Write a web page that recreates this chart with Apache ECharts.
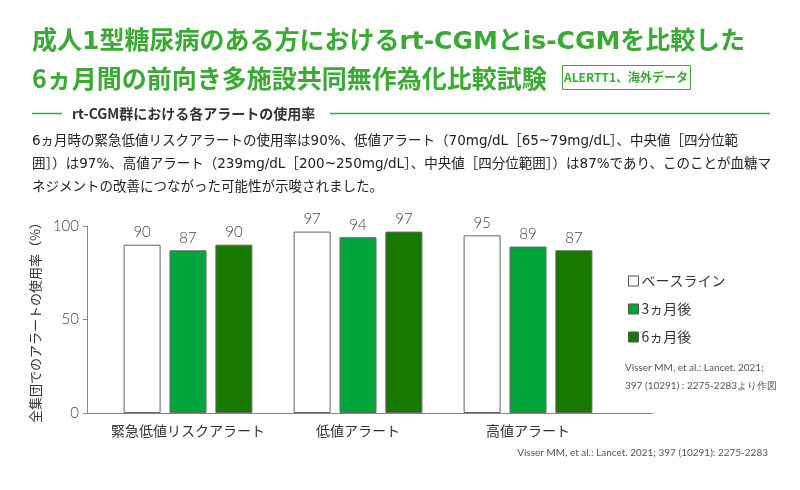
<!DOCTYPE html>
<html><head><meta charset="utf-8">
<script src="https://cdn.jsdelivr.net/npm/echarts@6/dist/echarts.min.js"></script>
<style>html,body{margin:0;padding:0;background:#fff;}#c{width:800px;height:490px;}</style>
</head><body><div id="c"></div>
<script>
const categories = ['緊急低値リスクアラート', '低値アラート', '高値アラート'];
const seriesNames = ['ベースライン', '3ヵ月後', '6ヵ月後'];
const baseline = [90, 97, 95];
const month3 = [87, 94, 89];
const month6 = [90, 97, 87];
const yTicks = [0, 50, 100];

const JP = '"Noto Sans CJK JP", "Noto Sans", sans-serif';
const MIX = '"DejaVu Sans", "Noto Sans CJK JP", sans-serif';
const NUM = 'Lato, "Noto Sans", sans-serif';
const GREEN_T = '#3aaa35';
const colors = ['#ffffff', '#00a63c', '#167a00'];

const chart = echarts.init(document.getElementById('c'));
const barCommon = (name, data, i) => ({
  name, type: 'bar', data, barWidth: 37, barGap: '24%',
  itemStyle: { color: colors[i], borderColor: '#666', borderWidth: 1 },
  label: { show: true, position: 'top', distance: 5, color: '#444', fontSize: 15, fontFamily: NUM, fontWeight: 300 }
});

const paraLines = [
  '6ヵ月時の緊急低値リスクアラートの使用率は90%、低値アラート（70mg/dL［65~79mg/dL］、中央値［四分位範',
  '囲］）は97%、高値アラート（239mg/dL［200~250mg/dL］、中央値［四分位範囲］）は87%であり、このことが血糖マ',
  'ネジメントの改善につながった可能性が示唆されました。'
];

const graphics = [
  { type: 'text', left: 32, top: 30, style: { text: '成人1型糖尿病のある方におけるrt-CGMとis-CGMを比較した', font: 'bold 25px ' + MIX, fill: GREEN_T } },
  { type: 'text', left: 32, top: 66, style: { text: '6ヵ月間の前向き多施設共同無作為化比較試験', font: 'bold 25px ' + JP, fill: GREEN_T } },
  { type: 'rect', shape: { x: 562.5, y: 65.5, width: 128, height: 24 }, style: { fill: '#fff', stroke: GREEN_T, lineWidth: 1 } },
  { type: 'text', x: 626, y: 77.5, style: { text: 'ALERTT1、海外データ', font: 'bold 12px ' + JP, fill: GREEN_T, align: 'center', verticalAlign: 'middle' } },
  { type: 'line', shape: { x1: 32, y1: 113.5, x2: 62, y2: 113.5 }, style: { stroke: GREEN_T, lineWidth: 1.5 } },
  { type: 'line', shape: { x1: 330, y1: 113.5, x2: 770, y2: 113.5 }, style: { stroke: GREEN_T, lineWidth: 1.5 } },
  { type: 'text', x: 72, y: 113.5, style: { text: 'rt-CGM群における各アラートの使用率', font: 'bold 14px ' + JP, fill: '#333', verticalAlign: 'middle' } },
  { type: 'line', shape: { x1: 87, y1: 413.5, x2: 653, y2: 413.5 }, style: { stroke: '#888', lineWidth: 1 } },
  { type: 'text', x: 625, y: 368, style: { text: 'Visser MM, et al.: Lancet. 2021;', font: '10px ' + NUM, fill: '#555', verticalAlign: 'middle' } },
  { type: 'text', x: 625, y: 386, style: { text: '397 (10291) : 2275-2283より作図', font: '10px ' + NUM, fill: '#555', verticalAlign: 'middle' } },
  { type: 'text', x: 768, y: 453, style: { text: 'Visser MM, et al.: Lancet. 2021; 397 (10291): 2275-2283', font: '10px ' + NUM, fill: '#555', align: 'right', verticalAlign: 'middle' } }
];
paraLines.forEach((t, i) => graphics.push({ type: 'text', x: 32, y: 141 + i * 23, style: { text: t, font: '13.5px ' + MIX, fill: '#222', verticalAlign: 'middle' } }));

chart.setOption({
  animation: false,
  grid: { left: 103, width: 510, top: 226, height: 187 },
  legend: {
    orient: 'vertical', left: 623, top: 269, itemWidth: 10, itemHeight: 10, itemGap: 14,
    icon: 'rect', data: seriesNames,
    textStyle: { fontSize: 14, color: '#333', fontFamily: JP, padding: [0, 0, 0, -2] },
    itemStyle: { borderColor: '#555', borderWidth: 1 }
  },
  xAxis: {
    type: 'category', data: categories,
    axisLine: { show: false }, axisTick: { show: false },
    axisLabel: { color: '#333', fontSize: 14, fontFamily: JP, margin: 11, interval: 0 }
  },
  yAxis: {
    type: 'value', min: yTicks[0], max: yTicks[yTicks.length - 1], interval: 50, offset: 16,
    name: '全集団でのアラートの使用率（%）', nameLocation: 'middle', nameRotate: 90, nameGap: 42,
    nameTextStyle: { fontSize: 13, color: '#333', fontFamily: JP },
    axisLine: { show: true, lineStyle: { color: '#888' } },
    axisTick: { show: true, length: 4, inside: false, lineStyle: { color: '#888' } },
    splitLine: { show: false },
    axisLabel: { color: '#444', fontSize: 15, fontFamily: NUM, fontWeight: 300, margin: 8 }
  },
  series: [
    barCommon(seriesNames[0], baseline, 0),
    barCommon(seriesNames[1], month3, 1),
    barCommon(seriesNames[2], month6, 2)
  ],
  graphic: graphics
});
</script></body></html>
